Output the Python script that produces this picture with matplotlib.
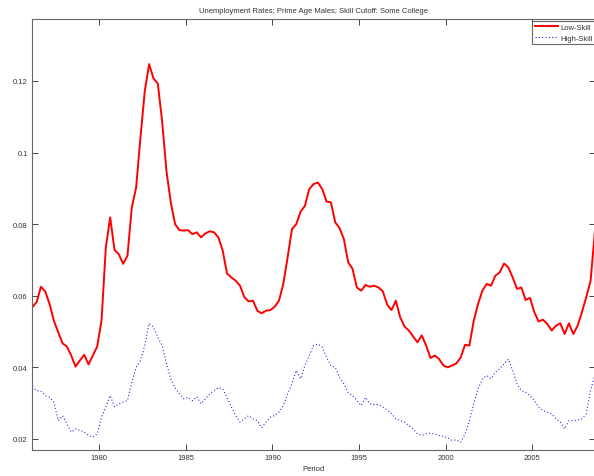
import numpy as np
import matplotlib
matplotlib.use("Agg")
import matplotlib.pyplot as plt

plt.rcParams['font.family'] = ['Liberation Sans', 'DejaVu Sans']

title = "Unemployment Rates; Prime Age Males; Skill Cutoff: Some College"
xlabel = "Period"
series_names = ["Low-Skill", "High-Skill"]
start_year = 1976.125
step = 0.25

low_skill = [
    0.0568, 0.0582, 0.0625, 0.0612, 0.0577, 0.0530, 0.0498, 0.0467, 0.0458, 0.0433,
    0.0402, 0.0419, 0.0435, 0.0408, 0.0433, 0.0458, 0.0530, 0.0735, 0.0819, 0.0728,
    0.0716, 0.0689, 0.0712, 0.0847, 0.0902, 0.1042, 0.1172, 0.1247, 0.1207, 0.1193,
    0.1088, 0.0949, 0.0861, 0.0800, 0.0783, 0.0782, 0.0783, 0.0772, 0.0777, 0.0763,
    0.0774, 0.0780, 0.0777, 0.0763, 0.0726, 0.0662, 0.0651, 0.0642, 0.0628, 0.0596,
    0.0584, 0.0586, 0.0558, 0.0551, 0.0558, 0.0560, 0.0569, 0.0586, 0.0633, 0.0707,
    0.0786, 0.0800, 0.0835, 0.0851, 0.0898, 0.0912, 0.0916, 0.0898, 0.0863, 0.0861,
    0.0805, 0.0789, 0.0758, 0.0693, 0.0675, 0.0623, 0.0614, 0.0630, 0.0625, 0.0628,
    0.0623, 0.0612, 0.0575, 0.0560, 0.0586, 0.0540, 0.0514, 0.0503, 0.0486, 0.0470,
    0.0489, 0.0461, 0.0426, 0.0433, 0.0423, 0.0405, 0.0400, 0.0405, 0.0411, 0.0428,
    0.0463, 0.0461, 0.0530, 0.0577, 0.0614, 0.0633, 0.0628, 0.0656, 0.0665, 0.0690,
    0.0679, 0.0651, 0.0619, 0.0623, 0.0588, 0.0594, 0.0554, 0.0528, 0.0533, 0.0521,
    0.0503, 0.0516, 0.0523, 0.0493, 0.0523, 0.0493, 0.0516, 0.0554, 0.0596, 0.0642,
    0.0780,
]

high_skill = [
    0.0346, 0.0335, 0.0333, 0.0321, 0.0316, 0.0303, 0.0251, 0.0265, 0.0242, 0.0219,
    0.0228, 0.0224, 0.0219, 0.0210, 0.0205, 0.0214, 0.0261, 0.0289, 0.0321, 0.0290,
    0.0298, 0.0303, 0.0307, 0.0358, 0.0400, 0.0419, 0.0461, 0.0523, 0.0512, 0.0484,
    0.0461, 0.0410, 0.0368, 0.0342, 0.0326, 0.0312, 0.0316, 0.0307, 0.0318, 0.0298,
    0.0312, 0.0326, 0.0335, 0.0343, 0.0340, 0.0316, 0.0289, 0.0265, 0.0247, 0.0256,
    0.0265, 0.0256, 0.0251, 0.0231, 0.0247, 0.0261, 0.0265, 0.0275, 0.0293, 0.0326,
    0.0354, 0.0391, 0.0368, 0.0405, 0.0433, 0.0461, 0.0465, 0.0456, 0.0428, 0.0405,
    0.0400, 0.0372, 0.0354, 0.0330, 0.0321, 0.0307, 0.0293, 0.0316, 0.0298, 0.0296,
    0.0296, 0.0289, 0.0281, 0.0270, 0.0256, 0.0251, 0.0247, 0.0237, 0.0228, 0.0214,
    0.0210, 0.0214, 0.0216, 0.0214, 0.0210, 0.0207, 0.0203, 0.0196, 0.0197, 0.0191,
    0.0214, 0.0251, 0.0298, 0.0340, 0.0368, 0.0377, 0.0368, 0.0386, 0.0396, 0.0410,
    0.0423, 0.0391, 0.0354, 0.0335, 0.0330, 0.0321, 0.0307, 0.0289, 0.0279, 0.0275,
    0.0270, 0.0256, 0.0247, 0.0228, 0.0251, 0.0251, 0.0253, 0.0256, 0.0270, 0.0335,
    0.0380,
]

xticks = [1980, 1985, 1990, 1995, 2000, 2005]
yticks = [0.02, 0.04, 0.06, 0.08, 0.1, 0.12]
ytick_labels = ["0.02", "0.04", "0.06", "0.08", "0.1", "0.12"]

periods = start_year + step * np.arange(len(low_skill))

W, H = 594, 477
fig = plt.figure(figsize=(W / 100, H / 100), dpi=100)
left, right, top, bottom = 32, 595, 20, 451
ax = fig.add_axes([left / W, 1 - bottom / H, (right - left) / W, (bottom - top) / H])

ax.plot(periods, low_skill, color='#ff0000', lw=1.4, label=series_names[0])
ax.plot(periods, high_skill, color='#2a2ae6', lw=0.8, linestyle=(0, (1, 2.0)),
        label=series_names[1])

ax.set_xlim(1976.11, 2008.63)
ax.set_ylim(0.0169, 0.1373)
ax.set_xticks(xticks)
ax.set_yticks(yticks)
ax.set_yticklabels(ytick_labels)

tc = '#333333'
for s in ax.spines.values():
    s.set_color('#666666')
    s.set_linewidth(0.8)
ax.tick_params(direction='in', length=4, width=0.7, color='#444444',
               labelsize=5.5, labelcolor=tc, top=True, right=True, pad=3)

ax.set_title(title, fontsize=5.5, color=tc, pad=5)
ax.set_xlabel(xlabel, fontsize=5.5, color=tc, labelpad=3)

leg = ax.legend(loc='upper left', bbox_to_anchor=(532 / W, 1 - 21.7 / H),
                bbox_transform=fig.transFigure, fontsize=5.5, frameon=True,
                fancybox=False, borderaxespad=0, borderpad=0.35,
                handlelength=3.1, handletextpad=0.3, labelspacing=0.45)
leg.get_frame().set_edgecolor('#444444')
leg.get_frame().set_linewidth(0.8)
for t in leg.get_texts():
    t.set_color(tc)

fig.savefig('out.png', dpi=100)
